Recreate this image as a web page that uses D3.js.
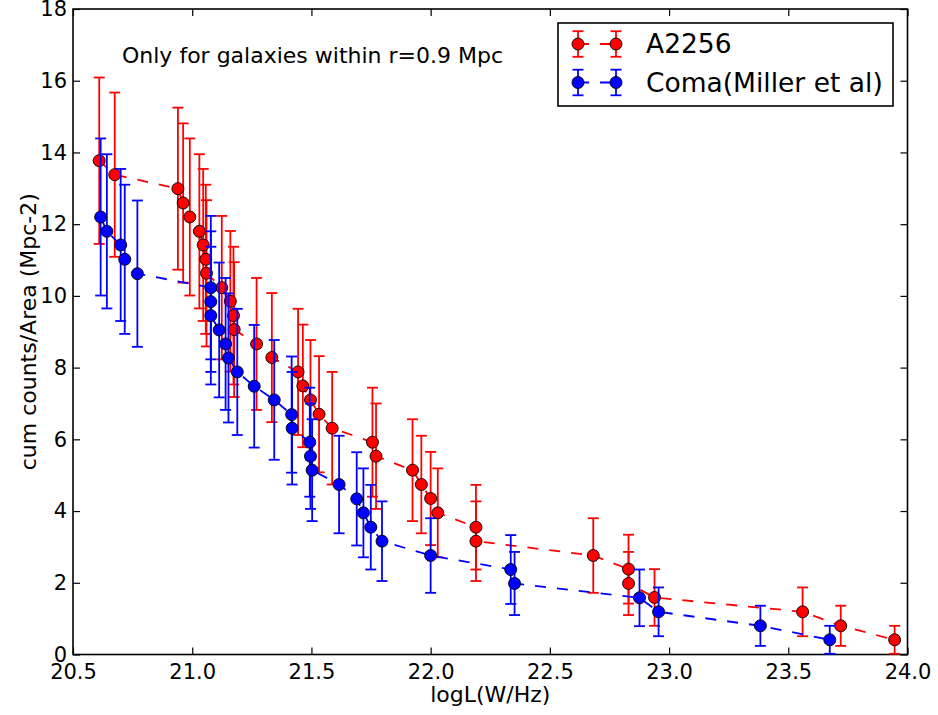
<!DOCTYPE html>
<html lang="en">
<head>
<meta charset="utf-8">
<title>cum counts vs logL</title>
<style>
body { margin: 0; background: #fff; }
svg text { font-family: "DejaVu Sans", sans-serif; fill: #000; }
.axis path, .axis line { stroke: #000; }
</style>
<script src="https://d3js.org/d3.v7.min.js"></script>
</head>
<body>
<div id="chart"></div>
<script>
// A2256
var redX = [20.61, 20.675, 20.94, 20.962, 20.99, 21.03, 21.046, 21.057, 21.06, 21.124, 21.16, 21.173, 21.176, 21.27, 21.334, 21.444, 21.464, 21.496, 21.532, 21.587, 21.756, 21.771, 21.924, 21.961, 22.0, 22.03, 22.19, 22.19, 22.682, 22.83, 22.83, 22.939, 23.56, 23.72, 23.946];
var redY = [13.77, 13.38, 12.99, 12.59, 12.2, 11.8, 11.42, 11.02, 10.63, 10.23, 9.85, 9.45, 9.06, 8.66, 8.28, 7.88, 7.49, 7.1, 6.7, 6.31, 5.92, 5.53, 5.14, 4.74, 4.35, 3.95, 3.55, 3.16, 2.76, 2.38, 1.98, 1.59, 1.19, 0.8, 0.41];
var redErr = [2.32, 2.29, 2.26, 2.22, 2.19, 2.15, 2.12, 2.08, 2.04, 2.0, 1.96, 1.92, 1.88, 1.84, 1.8, 1.76, 1.71, 1.67, 1.62, 1.57, 1.52, 1.47, 1.42, 1.36, 1.3, 1.24, 1.18, 1.11, 1.04, 0.96, 0.88, 0.79, 0.68, 0.56, 0.39];

// Coma (Miller et al)
var blueX = [20.616, 20.642, 20.70, 20.717, 20.77, 21.078, 21.078, 21.078, 21.113, 21.14, 21.152, 21.189, 21.26, 21.344, 21.417, 21.419, 21.493, 21.496, 21.503, 21.616, 21.69, 21.718, 21.749, 21.796, 22.0, 22.336, 22.352, 22.876, 22.956, 23.383, 23.674];
var blueY = [12.2, 11.8, 11.42, 11.02, 10.62, 10.23, 9.84, 9.45, 9.05, 8.66, 8.27, 7.88, 7.48, 7.1, 6.69, 6.31, 5.92, 5.53, 5.14, 4.74, 4.34, 3.95, 3.55, 3.16, 2.76, 2.37, 1.98, 1.58, 1.19, 0.8, 0.41];
var blueErr = [2.19, 2.15, 2.12, 2.08, 2.04, 2.0, 1.96, 1.92, 1.88, 1.84, 1.8, 1.76, 1.71, 1.67, 1.62, 1.57, 1.52, 1.47, 1.42, 1.36, 1.3, 1.24, 1.18, 1.11, 1.04, 0.96, 0.88, 0.79, 0.68, 0.56, 0.39];

var xTicks = [20.5, 21.0, 21.5, 22.0, 22.5, 23.0, 23.5, 24.0];
var yTicks = [0, 2, 4, 6, 8, 10, 12, 14, 16, 18];
var seriesNames = ['A2256', 'Coma(Miller et al)'];

var W = 938, H = 715;
var pLeft = 73, pRight = 907.5, pTop = 9, pBottom = 654.5;

var x = d3.scaleLinear().domain([20.5, 24]).range([pLeft, pRight]);
var y = d3.scaleLinear().domain([0, 18]).range([pBottom, pTop]);

var svg = d3.select('#chart').append('svg')
  .attr('width', W).attr('height', H);

var fmtX = d3.format('.1f');

// axes, ticks pointing inward on all four sides
var gx = svg.append('g').attr('class', 'axis')
  .attr('transform', 'translate(0,' + pBottom + ')')
  .call(d3.axisBottom(x).tickValues(xTicks).tickFormat(fmtX).tickSizeInner(-7).tickSizeOuter(0));
gx.selectAll('text').attr('y', 24.5).attr('dy', null).style('font-size', '21px');

svg.append('g').attr('class', 'axis')
  .attr('transform', 'translate(0,' + pTop + ')')
  .call(d3.axisTop(x).tickValues(xTicks).tickFormat('').tickSizeInner(-7).tickSizeOuter(0));

var gy = svg.append('g').attr('class', 'axis')
  .attr('transform', 'translate(' + pLeft + ',0)')
  .call(d3.axisLeft(y).tickValues(yTicks).tickSizeInner(-7).tickSizeOuter(0).tickPadding(6));
gy.selectAll('text').style('font-size', '21px');

svg.append('g').attr('class', 'axis')
  .attr('transform', 'translate(' + pRight + ',0)')
  .call(d3.axisRight(y).tickValues(yTicks).tickFormat('').tickSizeInner(-7).tickSizeOuter(0));

svg.selectAll('.axis line').attr('stroke-width', 1.2);
svg.selectAll('.axis .domain').remove();

svg.append('rect')
  .attr('x', pLeft).attr('y', pTop)
  .attr('width', pRight - pLeft).attr('height', pBottom - pTop)
  .attr('fill', 'none').attr('stroke', '#000').attr('stroke-width', 1.6);

function drawSeries(xs, ys, errs, color) {
  var g = svg.append('g');
  var pts = xs.map(function(d, i) { return { x: d, y: ys[i], e: errs[i] }; });

  var bars = g.selectAll('g.bar').data(pts).enter().append('g')
    .attr('stroke', color).attr('stroke-width', 1.8);
  bars.append('line')
    .attr('x1', function(d) { return x(d.x); }).attr('x2', function(d) { return x(d.x); })
    .attr('y1', function(d) { return y(d.y - d.e); }).attr('y2', function(d) { return y(d.y + d.e); });
  bars.append('line')
    .attr('x1', function(d) { return x(d.x) - 5.5; }).attr('x2', function(d) { return x(d.x) + 5.5; })
    .attr('y1', function(d) { return y(d.y + d.e); }).attr('y2', function(d) { return y(d.y + d.e); });
  bars.append('line')
    .attr('x1', function(d) { return x(d.x) - 5.5; }).attr('x2', function(d) { return x(d.x) + 5.5; })
    .attr('y1', function(d) { return y(d.y - d.e); }).attr('y2', function(d) { return y(d.y - d.e); });

  g.append('path')
    .datum(pts)
    .attr('fill', 'none').attr('stroke', color).attr('stroke-width', 1.8)
    .attr('stroke-dasharray', '11,11')
    .attr('d', d3.line().x(function(d) { return x(d.x); }).y(function(d) { return y(d.y); }));

  g.selectAll('circle').data(pts).enter().append('circle')
    .attr('cx', function(d) { return x(d.x); })
    .attr('cy', function(d) { return y(d.y); })
    .attr('r', 6)
    .attr('fill', color).attr('stroke', '#000').attr('stroke-width', 0.9);
}

drawSeries(redX, redY, redErr, '#ff0000');
drawSeries(blueX, blueY, blueErr, '#0000ff');

// labels
svg.append('text')
  .attr('x', (pLeft + pRight) / 2).attr('y', 702)
  .attr('text-anchor', 'middle').style('font-size', '22px')
  .text('logL(W/Hz)');

svg.append('text')
  .attr('transform', 'translate(36,' + (pTop + pBottom) / 2 + ') rotate(-90)')
  .attr('text-anchor', 'middle').style('font-size', '22px')
  .text('cum counts/Area (Mpc-2)');

svg.append('text')
  .attr('x', 122).attr('y', 63)
  .style('font-size', '22px')
  .text('Only for galaxies within r=0.9 Mpc');

// legend
var legend = svg.append('g');
legend.append('rect')
  .attr('x', 558).attr('y', 23).attr('width', 335).attr('height', 83)
  .attr('fill', '#fff').attr('stroke', '#000').attr('stroke-width', 1.6);

var legColors = ['#ff0000', '#0000ff'];
var legRows = [44, 82.5];
seriesNames.forEach(function(name, i) {
  var cy = legRows[i], c = legColors[i];
  var row = legend.append('g');
  row.append('line')
    .attr('x1', 578).attr('x2', 616).attr('y1', cy).attr('y2', cy)
    .attr('stroke', c).attr('stroke-width', 1.8).attr('stroke-dasharray', '11,11');
  [578, 616].forEach(function(mx) {
    row.append('line').attr('x1', mx).attr('x2', mx).attr('y1', cy - 12.8).attr('y2', cy + 12.8)
      .attr('stroke', c).attr('stroke-width', 1.8);
    row.append('line').attr('x1', mx - 5.5).attr('x2', mx + 5.5).attr('y1', cy - 12.8).attr('y2', cy - 12.8)
      .attr('stroke', c).attr('stroke-width', 1.8);
    row.append('line').attr('x1', mx - 5.5).attr('x2', mx + 5.5).attr('y1', cy + 12.8).attr('y2', cy + 12.8)
      .attr('stroke', c).attr('stroke-width', 1.8);
    row.append('circle').attr('cx', mx).attr('cy', cy).attr('r', 6)
      .attr('fill', c).attr('stroke', '#000').attr('stroke-width', 0.9);
  });
  row.append('text')
    .attr('x', 646).attr('y', cy + 9.3)
    .style('font-size', '26.5px')
    .text(name);
});
</script>
</body>
</html>
